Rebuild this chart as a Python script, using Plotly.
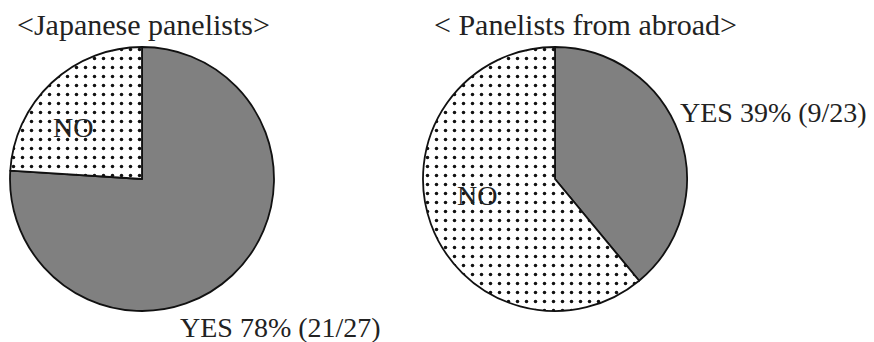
import plotly.graph_objects as go

labels = ["YES", "NO"]
japan_values = [76, 24]
abroad_values = [39, 61]
japan_title = "<Japanese panelists>"
abroad_title = "< Panelists from abroad>"
japan_yes_text = "YES 78% (21/27)"
abroad_yes_text = "YES 39% (9/23)"
no_text = "NO"

W, H = 874, 342
FONT = "Liberation Serif, Times New Roman, serif"

def dom(cx, cy, r):
    return dict(x=[(cx - r) / W, (cx + r) / W], y=[(H - cy - r) / H, (H - cy + r) / H])

marker = dict(
    colors=["#808080", "#ffffff"],
    line=dict(color="#111111", width=1.8),
    pattern=dict(shape=["", "."], fgcolor="#111111", bgcolor="#ffffff", size=9, solidity=0.12),
)

fig = go.Figure()
fig.add_trace(go.Pie(labels=labels, values=japan_values, sort=False, direction="clockwise",
                     rotation=0, textinfo="none", hoverinfo="label+percent",
                     marker=marker, domain=dom(142, 179, 132), showlegend=False))
fig.add_trace(go.Pie(labels=labels, values=abroad_values, sort=False, direction="clockwise",
                     rotation=0, textinfo="none", hoverinfo="label+percent",
                     marker=marker, domain=dom(555, 179, 132), showlegend=False))

def ann(text, x, y, xanchor="left", size=28):
    return dict(text=text, x=x / W, y=1 - y / H, xref="paper", yref="paper",
                xanchor=xanchor, yanchor="middle", showarrow=False,
                font=dict(family=FONT, size=size, color="#222222"))

fig.update_layout(
    width=W, height=H, margin=dict(l=0, r=0, t=0, b=0),
    paper_bgcolor="white", plot_bgcolor="white",
    annotations=[
        ann(japan_title, 15, 25, size=30),
        ann(abroad_title, 432, 25, size=30),
        ann(no_text, 73, 127, "center"),
        ann(no_text, 477, 195, "center"),
        ann(japan_yes_text, 178, 327),
        ann(abroad_yes_text, 678, 112),
    ],
)

fig.write_html("out.html")
